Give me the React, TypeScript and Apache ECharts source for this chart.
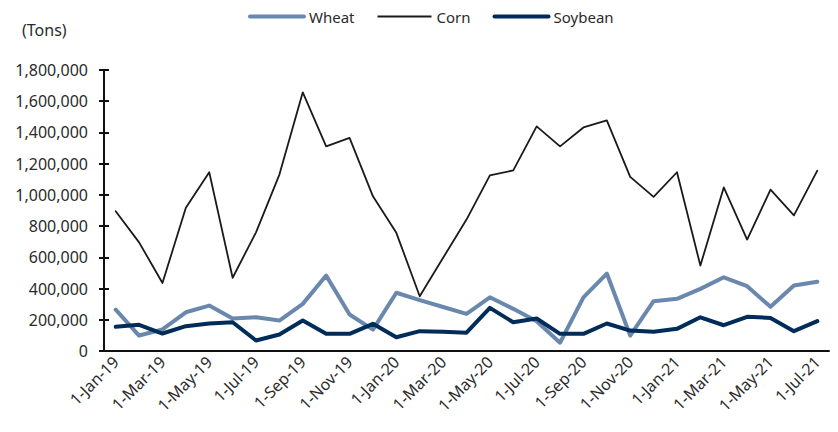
import React, { useEffect, useRef } from "react";
import * as echarts from "echarts";

const categories = [
  "1-Jan-19", "1-Feb-19", "1-Mar-19", "1-Apr-19", "1-May-19", "1-Jun-19",
  "1-Jul-19", "1-Aug-19", "1-Sep-19", "1-Oct-19", "1-Nov-19", "1-Dec-19",
  "1-Jan-20", "1-Feb-20", "1-Mar-20", "1-Apr-20", "1-May-20", "1-Jun-20",
  "1-Jul-20", "1-Aug-20", "1-Sep-20", "1-Oct-20", "1-Nov-20", "1-Dec-20",
  "1-Jan-21", "1-Feb-21", "1-Mar-21", "1-Apr-21", "1-May-21", "1-Jun-21",
  "1-Jul-21",
];

const wheat = [
  265000, 99000, 138000, 248000, 291000, 208000, 216000, 195000, 302000, 483000,
  234000, 137000, 373000, 326000, 282000, 238000, 344000, 270000, 191000, 53000,
  344000, 496000, 99000, 319000, 334000, 398000, 472000, 415000, 283000, 419000,
  443000,
];

const corn = [
  895000, 696000, 436000, 917000, 1145000, 469000, 760000, 1130000, 1657000,
  1311000, 1365000, 991000, 757000, 351000, 597000, 842000, 1125000, 1157000,
  1439000, 1311000, 1432000, 1477000, 1115000, 987000, 1145000, 547000, 1048000,
  714000, 1034000, 869000, 1155000,
];

const soybean = [
  155000, 168000, 112000, 159000, 176000, 184000, 67000, 106000, 195000, 110000,
  110000, 174000, 88000, 127000, 124000, 117000, 276000, 184000, 208000, 110000,
  110000, 176000, 131000, 123000, 142000, 216000, 165000, 219000, 212000, 127000,
  191000,
];

const yMin = 0;
const yMax = 1800000;
const yStep = 200000;

const FONT = "'Noto Sans', sans-serif";
const TEXT = "#2b2b2b";
const AXIS = "#111111";

const WHEAT_COLOR = "#6a88ad";
const CORN_COLOR = "#1a1a1a";
const SOY_COLOR = "#002c59";

export default function App() {
  const ref = useRef<HTMLDivElement>(null);

  useEffect(() => {
    if (!ref.current) return;
    const chart = echarts.init(ref.current, undefined, { renderer: "svg" });

    const lineSeries = (name: string, data: number[], color: string, width: number, z: number) => ({
      name,
      type: "line",
      data,
      symbol: "none",
      showSymbol: false,
      z,
      lineStyle: { color, width, cap: "round", join: "round" },
      itemStyle: { color },
    });

    chart.setOption({
      animation: false,
      backgroundColor: "#ffffff",
      textStyle: { fontFamily: FONT, color: TEXT },
      legend: {
        left: 243,
        top: 4,
        itemWidth: 54,
        itemHeight: 10,
        itemGap: 22,
        // legend keys are plain line strokes, no marker dot
        itemStyle: { color: "transparent", borderColor: "transparent", borderWidth: 0, opacity: 0 },
        textStyle: { fontFamily: FONT, fontSize: 15, color: TEXT },
        data: [
          { name: "Wheat", lineStyle: { width: 4, cap: "round", color: WHEAT_COLOR } },
          { name: "Corn", lineStyle: { width: 2, cap: "butt", color: CORN_COLOR } },
          { name: "Soybean", lineStyle: { width: 4, cap: "round", color: SOY_COLOR } },
        ],
      },
      graphic: [
        {
          type: "text",
          left: 22,
          top: 22,
          style: { text: "(Tons)", fontFamily: FONT, fontSize: 16, fill: TEXT },
        },
      ],
      grid: { left: 104, right: 9, top: 70, bottom: 81, containLabel: false },
      xAxis: {
        type: "category",
        data: categories,
        boundaryGap: true,
        axisLine: { lineStyle: { color: AXIS, width: 2 } },
        axisTick: { inside: true, length: 5, interval: 1, lineStyle: { color: AXIS, width: 2 } },
        axisLabel: {
          interval: 1,
          rotate: 45,
          margin: 8,
          fontFamily: FONT,
          fontSize: 16,
          color: TEXT,
        },
        splitLine: { show: false },
      },
      yAxis: [
        {
          type: "value",
          min: yMin,
          max: yMax,
          interval: yStep,
          position: "left",
          axisLine: { show: true, lineStyle: { color: AXIS, width: 2 } },
          axisTick: { show: true, inside: false, length: 5, lineStyle: { color: AXIS, width: 2 } },
          axisLabel: {
            margin: 16,
            fontFamily: FONT,
            fontSize: 16,
            color: TEXT,
            formatter: (v: number) => v.toLocaleString("en-US"),
          },
          splitLine: { show: false },
        },
        {
          type: "value",
          min: yMin,
          max: yMax,
          interval: yStep,
          position: "left",
          offset: 0,
          axisLine: { show: false },
          axisTick: { show: true, inside: true, length: 5, lineStyle: { color: AXIS, width: 2 } },
          axisLabel: { show: false },
          splitLine: { show: false },
        },
      ],
      series: [
        lineSeries("Wheat", wheat, WHEAT_COLOR, 4, 2),
        lineSeries("Corn", corn, CORN_COLOR, 1.8, 3),
        lineSeries("Soybean", soybean, SOY_COLOR, 4, 4),
      ],
    });

    return () => chart.dispose();
  }, []);

  return (
    <div
      ref={ref}
      style={{ position: "fixed", left: 0, top: 0, width: 838, height: 432, background: "#fff" }}
    />
  );
}
